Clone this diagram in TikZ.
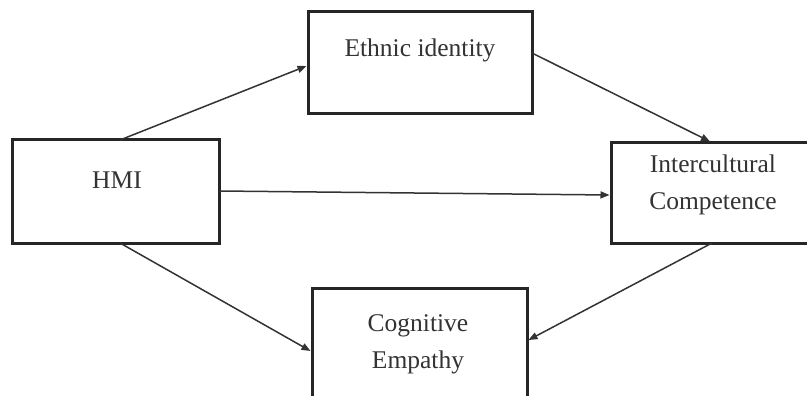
\documentclass[tikz,border=0pt]{standalone}
\usepackage{fontspec}
\setmainfont{Liberation Serif}
\usetikzlibrary{arrows.meta}
\begin{document}
\begin{tikzpicture}[x=1pt,y=-1pt,
  boxst/.style={draw=black!85,line width=3pt,fill=white},
  lbl/.style={font=\fontsize{25.5}{37}\selectfont,text=black!80,align=center},
  conn/.style={draw=black!80,line width=1.5pt,-{Triangle[length=9pt,width=7pt]}}]
\useasboundingbox (0,0) rectangle (807,396);
\clip (0,0) rectangle (807,396);
\fill[white] (0,0) rectangle (807,396);
% boxes
\draw[boxst] (308,12) rectangle (532,114);
\draw[boxst] (12,140) rectangle (219,243);
\draw[boxst] (611,143) rectangle (830,243);
\draw[boxst] (312,288) rectangle (527,420);
% anchor coordinates
\coordinate (hmiT) at (120,140);
\coordinate (hmiR) at (219,191);
\coordinate (hmiB) at (120,243);
\coordinate (ethL) at (306.5,66);
\coordinate (ethR) at (532,53);
\coordinate (icT) at (710,141.5);
\coordinate (icL) at (609.5,195);
\coordinate (icB) at (712,243);
\coordinate (ceL) at (310.5,351);
\coordinate (ceR) at (528.5,340);
% labels
\node[lbl] (eth) at (420,50) {Ethnic identity};
\node[lbl] (hmi) at (117,180) {HMI};
\node[lbl] (ic) at (713,185) {Intercultural\\Competence};
\node[lbl] (ce) at (418,344) {Cognitive\\Empathy};
% connectors
\draw[conn] (hmiT) -- (ethL);
\draw[conn] (ethR) -- (icT);
\draw[conn] (hmiR) -- (icL);
\draw[conn] (hmiB) -- (ceL);
\draw[conn] (icB) -- (ceR);
\end{tikzpicture}
\end{document}
